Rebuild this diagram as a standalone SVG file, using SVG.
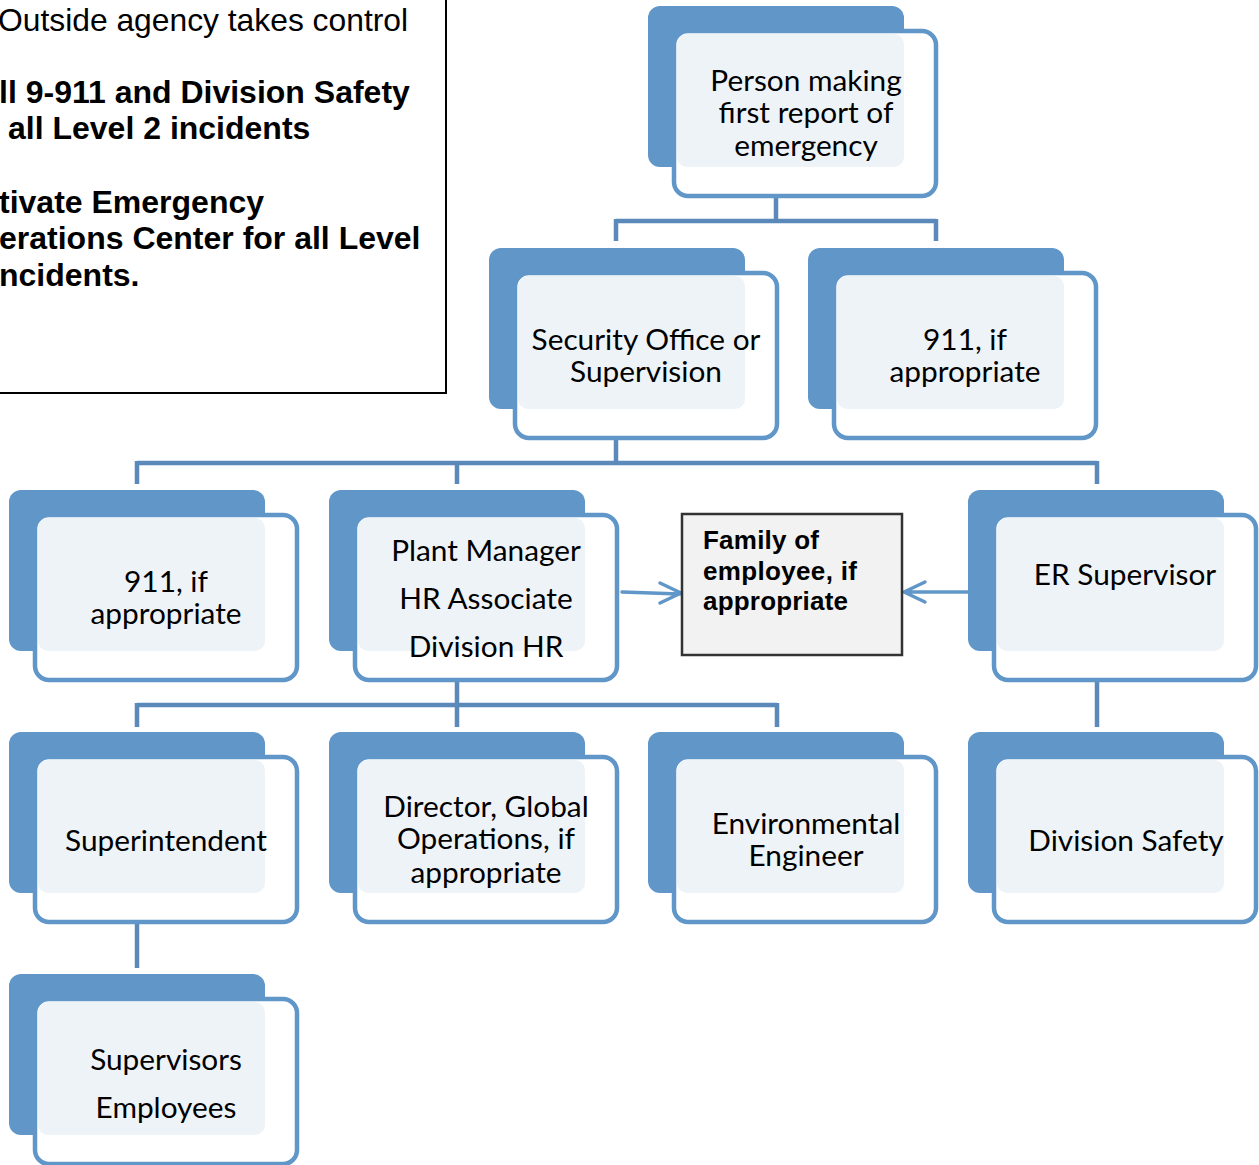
<svg xmlns="http://www.w3.org/2000/svg" width="1259" height="1165" viewBox="0 0 1259 1165">
<defs>
<style>
.back{fill:#6096C8;}
.outl{fill:#FFFFFF;stroke:#6096C8;stroke-width:4.5;}
.tbox{fill:#EEF3F8;}
.nt{font-family:Lato,"Noto Sans",sans-serif;font-size:29.8px;fill:#000;text-anchor:middle;}
.conn{stroke:#5A89BA;stroke-width:4.5;fill:none;}
.pale{stroke:#E4ECF5;stroke-width:4.5;fill:none;}
.arr{stroke:#6096C8;stroke-width:3.5;fill:none;stroke-linecap:round;stroke-linejoin:round;}
.lt{font-family:"Liberation Sans",Arial,sans-serif;font-size:31.8px;fill:#000;}
.lb{font-family:"Liberation Sans",Arial,sans-serif;font-size:32px;font-weight:bold;fill:#000;}
.fb{font-family:"Liberation Sans",Arial,sans-serif;font-size:26px;font-weight:bold;fill:#000;}
</style>
<g id="nodeShape">
<rect class="back" x="0" y="0" width="256" height="161" rx="12"/>
<rect class="outl" x="26" y="25" width="262" height="165" rx="14"/>
<rect class="tbox" x="29" y="28" width="227" height="133" rx="10"/>
</g>
</defs>
<rect width="1259" height="1165" fill="#FFFFFF"/>

<g id="note">
<rect x="-5" y="-5" width="451" height="398" fill="#FFFFFF" stroke="#000" stroke-width="2"/>
<text class="lt" x="-2" y="31">Outside agency takes control</text>
<text class="lb" x="-1" y="103">ll 9-911 and Division Safety</text>
<text class="lb" x="8" y="139">all Level 2 incidents</text>
<text class="lb" x="-1" y="213">tivate Emergency</text>
<text class="lb" x="-1" y="249">erations Center for all Level</text>
<text class="lb" x="-1" y="286">ncidents.</text>
</g>

<g id="connectors">
<path class="conn" d="M776 196 V221 M616 221 H936 M616 219 V241 M936 219 V241"/>
<path class="pale" d="M776 172 V196"/>
<path class="conn" d="M616 438 V463 M137 463 H1097 M137 461 V484 M457 461 V484 M1097 461 V484"/>
<path class="pale" d="M616 414 V438"/>
<path class="conn" d="M457 680 V705 M137 705 H777 M137 703 V727 M457 703 V727 M777 703 V727"/>
<path class="pale" d="M457 656 V680"/>
<path class="conn" d="M1097 680 V727"/>
<path class="pale" d="M1097 656 V680"/>
<path class="conn" d="M137 922 V968"/>
<path class="pale" d="M137 898 V922"/>
<path class="arr" d="M622 592 L680 594 M660 583 L681 593 L660 603"/>
<path class="arr" d="M994 592 L905 592 M925 582 L904 592 L925 602"/>
</g>

<g id="n-person"><use href="#nodeShape" x="648" y="6"/>
<text class="nt" x="806" y="91">Person making</text><text class="nt" x="806" y="123">first report of</text><text class="nt" x="806" y="156">emergency</text></g>

<g id="n-security"><use href="#nodeShape" x="489" y="248"/>
<text class="nt" x="646" y="350">Security Office or</text><text class="nt" x="646" y="382">Supervision</text></g>

<g id="n-911a"><use href="#nodeShape" x="808" y="248"/>
<text class="nt" x="965" y="350">911, if</text><text class="nt" x="965" y="382">appropriate</text></g>

<g id="n-911b"><use href="#nodeShape" x="9" y="490"/>
<text class="nt" x="166" y="592">911, if</text><text class="nt" x="166" y="624">appropriate</text></g>

<g id="n-plant"><use href="#nodeShape" x="329" y="490"/>
<text class="nt" x="486" y="561">Plant Manager</text><text class="nt" x="486" y="609">HR Associate</text><text class="nt" x="486" y="657">Division HR</text></g>

<g id="n-family">
<rect x="682" y="514" width="220" height="141" fill="#F2F2F2" stroke="#333" stroke-width="2.5"/>
<text class="fb" x="703" y="549" textLength="116" lengthAdjust="spacing">Family of</text>
<text class="fb" x="703" y="580" textLength="154" lengthAdjust="spacing">employee, if</text>
<text class="fb" x="703" y="610" textLength="145" lengthAdjust="spacing">appropriate</text>
</g>

<g id="n-er"><use href="#nodeShape" x="968" y="490"/>
<text class="nt" x="1125" y="585">ER Supervisor</text></g>

<g id="n-super"><use href="#nodeShape" x="9" y="732"/>
<text class="nt" x="166" y="851">Superintendent</text></g>

<g id="n-director"><use href="#nodeShape" x="329" y="732"/>
<text class="nt" x="486" y="817">Director, Global</text><text class="nt" x="486" y="849">Operations, if</text><text class="nt" x="486" y="883">appropriate</text></g>

<g id="n-env"><use href="#nodeShape" x="648" y="732"/>
<text class="nt" x="806" y="834">Environmental</text><text class="nt" x="806" y="866">Engineer</text></g>

<g id="n-divsafety"><use href="#nodeShape" x="968" y="732"/>
<text class="nt" x="1126" y="851">Division Safety</text></g>

<g id="n-supervisors"><use href="#nodeShape" x="9" y="974"/>
<text class="nt" x="166" y="1070">Supervisors</text><text class="nt" x="166" y="1118">Employees</text></g>
</svg>
